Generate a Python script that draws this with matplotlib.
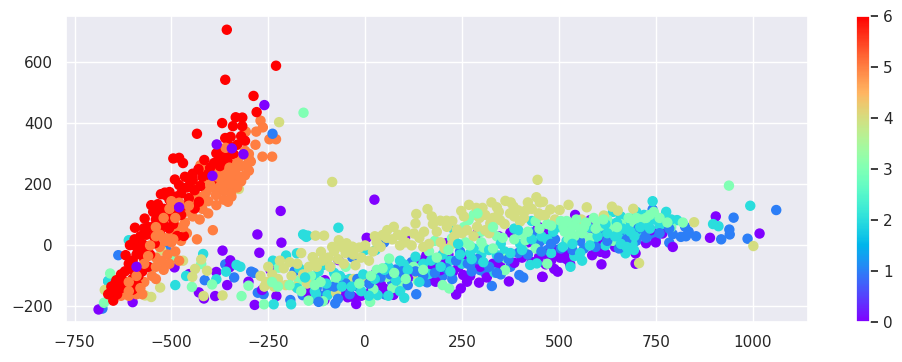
"""PCA style scatter of seven classes with a rainbow colorbar."""

import matplotlib.pyplot as plt
import numpy as np
import seaborn as sns

purple = [
    (-688, -210), (-600, -186), (-492, -72), (-454, -94), (-368, -17), (-348, -49), (-350, -72),
    (-384, -87), (-356, -130), (-429, -154), (-416, -174), (-387, -166), (-278, 36), (-218, 113),
    (-216, 9), (-273, -24), (-244, -81), (-285, -195), (-301, -119), (-229, -166), (-266, -146),
    (-152, -152), (24, 150), (4, 25), (103, 25), (209, 7), (375, 42), (447, 61), (158, -32),
    (-69, -48), (-104, -114), (-147, -152), (-105, -179), (-54, -155), (-23, -192), (-33, -168),
    (27, -92), (73, -162), (49, -141), (109, -108), (182, -119), (194, -81), (227, -86), (241, -70),
    (253, -97), (271, -100), (263, -119), (294, -122), (314, -105), (247, -141), (235, -161),
    (348, -64), (371, -118), (385, -57), (449, -37), (457, -103), (466, -62), (430, -54), (297, -70),
    (-45, -170), (-10, -165), (-65, -160), (15, -150), (40, -125), (95, -130), (120, -100),
    (170, -75), (145, -50), (200, -50), (175, -100), (215, -30), (255, -45), (330, -60), (405, -40),
    (458, -103), (488, -77), (497, -86), (529, -61), (514, -26), (490, -15), (503, -40), (542, 100),
    (586, -32), (620, -26), (607, -21), (616, 12), (581, 83), (610, -62), (698, -60), (698, -26),
    (725, 7), (737, 50), (750, 10), (767, 39), (794, -5), (890, 25), (905, 95), (1018, 39),
    (480, -50), (470, -30), (520, -45), (600, 5), (630, 30), (645, -5), (690, 65), (560, 45),
    (470, 50), (345, 30), (420, 10), (290, 40),
]
blue = [
    (-637, -32), (-586, -132), (-414, -114), (-361, -62), (-338, -105), (-294, -86), (-287, -90),
    (-277, -155), (-262, -160), (-678, -207), (-182, -84), (-193, -179), (-161, -163), (-513, -10),
    (-663, -117), (-125, -140), (-110, -165), (-140, -175), (49, 10), (-33, -39), (79, -79),
    (177, -64), (327, -133), (408, -105), (398, -97), (297, -81), (132, -160), (160, -121),
    (52, -161), (-77, -190), (-97, -141), (70, -121), (434, 43), (451, 12), (285, -60), (350, -95),
    (310, -90), (200, -100), (90, -100), (30, -130), (-20, -135), (-60, -110), (120, -55),
    (245, -20), (375, -70), (445, 0), (470, -15), (490, 20), (510, -40), (555, 15), (610, 40),
    (625, 50), (640, 5), (690, 20), (700, 15), (710, 35), (720, 50), (745, 39), (750, 17),
    (742, 118), (785, 9), (794, 37), (815, 28), (826, 61), (828, 30), (835, 45), (854, 30),
    (919, 20), (941, 36), (940, 52), (951, 91), (987, 22), (1061, 116), (530, 10), (585, 30),
    (670, 45), (680, 5), (770, 60),
]
cyan = [
    (-490, -130), (-556, -72), (-418, -28), (-462, -100), (-384, -111), (-359, -86), (-332, -64),
    (-322, -70), (-238, -50), (-204, -33), (-176, -26), (-160, 36), (-152, 28), (-236, -193),
    (-191, -193), (-610, 17), (-663, -117), (-69, 58), (-157, 34), (-148, 32), (0, -15), (27, -15),
    (-108, -64), (-97, -163), (101, -172), (130, -37), (164, -94), (100, -62), (32, -163),
    (-127, -160), (334, -89), (340, -32), (271, -26), (220, -50), (426, -64), (443, -59),
    (-130, -110), (-80, -90), (-40, -110), (-10, -150), (60, -70), (90, -50), (150, -60),
    (200, -30), (250, -60), (300, -30), (360, -20), (400, 5), (470, 20), (500, 60), (480, -25),
    (520, 15), (540, -35), (560, -50), (530, -70), (575, 60), (600, 55), (620, 95), (640, 110),
    (660, 95), (665, -10), (672, -26), (680, 30), (694, -15), (690, 60), (700, 45), (660, 20),
    (690, 5), (670, 60), (700, 110), (715, 75), (730, 70), (742, 145), (745, 85), (777, 110),
    (760, 65), (805, 83), (898, 70), (912, 63), (994, 130), (590, 20), (620, 0), (650, 40),
    (640, 70), (675, 80), (720, 100), (385, 55), (430, 80), (230, 50), (-120, -85), (-170, -75),
]
mint = [
    (-495, -42), (-423, -61), (-447, -136), (-395, -128), (-319, -166), (-301, -132), (-261, -193),
    (-674, -188), (-658, -92), (-646, -155), (-223, -73), (-171, -116), (13, -185), (280, 100),
    (267, 83), (259, 10), (306, -7), (364, -43), (414, 17), (408, -15), (200, -130), (217, -141),
    (136, -116), (96, -136), (21, -143), (62, -43), (56, -103), (-81, -125), (-146, -181),
    (-109, -183), (224, 23), (361, -81), (-159, 435), (939, 196), (-140, -100), (-90, -70),
    (-50, -70), (30, -80), (70, -140), (125, -70), (165, -20), (300, 45), (340, 30), (400, 40),
    (440, 80), (470, 70), (512, 60), (520, 80), (530, 50), (540, 30), (550, 70), (560, 40),
    (525, 20), (565, 60), (580, 25), (600, 75), (625, 85), (640, 60), (660, 70), (725, 90),
    (735, 100), (695, 75), (712, 85), (790, 60), (820, 75), (640, 15), (610, 65), (590, 90),
    (470, -60), (440, -10), (255, 60), (180, 15),
]
khaki = [
    (-470, -50), (-423, -46), (-439, -77), (-408, -83), (-446, -103), (-529, -138), (-568, -164),
    (-552, -169), (-368, -164), (-417, -166), (-579, 1), (-526, -15), (-672, -146), (-326, 185),
    (-222, 404), (-270, -100), (-255, -120), (-240, -95), (-225, -110), (-210, -75), (-205, -130),
    (-190, -100), (-175, -60), (-160, -95), (-150, -125), (-250, -70), (-235, -135), (-195, -55),
    (-220, -50), (-260, -135), (-180, -135), (-145, -70), (-135, -39), (-130, -60), (-85, 208),
    (445, 215), (442, 158), (132, 103), (161, 119), (172, 95), (194, 81), (210, 81), (248, 113),
    (268, 133), (287, 123), (303, 123), (326, 141), (362, 146), (376, 141), (383, 127), (374, 105),
    (420, 141), (451, 141), (448, 105), (400, 78), (348, 83), (323, 72), (289, 61), (263, 50),
    (237, 52), (211, 61), (130, 72), (126, 39), (152, 45), (74, 61), (57, 50), (45, 34), (-80, -19),
    (-68, 17), (-48, 7), (-128, 32), (-106, 32), (-114, -21), (-165, -25), (-135, -39), (-15, -7),
    (-33, -4), (0, 0), (20, -20), (40, -5), (70, 20), (90, 0), (105, 10), (120, 0), (150, -5),
    (165, 5), (195, 10), (205, -10), (-95, -40), (-70, -45), (-50, -25), (-30, -30), (-10, -40),
    (10, -50), (-90, -70), (-55, -60), (-25, -65), (-60, -5), (-125, -70), (25, 30), (-30, -110),
    (5, -105), (-75, -155), (135, -95), (230, 30), (250, 40), (280, 30), (310, 50), (330, 90),
    (345, 110), (360, 70), (385, 95), (410, 90), (430, 120), (465, 100), (320, 40), (295, 90),
    (525, 133), (572, 125), (637, 127), (652, 114), (692, 120), (558, 85), (616, 98), (502, 116),
    (478, 118), (459, 143), (490, 85), (456, 99), (849, 76), (1002, -2), (707, -58), (225, 5),
    (185, 45), (105, 45), (85, 35), (-110, -50), (-85, -5), (-45, -15), (30, 10), (55, 25), (95, 30),
    (140, 25), (175, 70), (225, 80), (255, 95), (310, 100), (340, 125), (395, 115), (415, 115),
]
blue_mid = [
    (-80, -135), (-50, -125), (-20, -110), (10, -125), (40, -105), (65, -95), (95, -85), (130, -85),
    (150, -100), (180, -90), (210, -75), (235, -50), (265, -60), (290, -45), (320, -70), (345, -40),
    (370, -45), (395, -25), (420, -30), (455, -20), (480, 5), (505, -10), (535, -15), (565, -10),
    (595, -5), (625, 15), (655, -10), (675, 20), (705, 55), (725, 25), (760, 40), (785, 55),
    (-40, -160), (-120, -185), (-70, -175), (110, -130), (225, -110), (275, -85), (340, -90),
]
cyan_mid = [
    (-130, -150), (-100, -125), (-65, -100), (-35, -135), (-5, -95), (25, -110), (50, -80), (80, -115),
    (110, -80), (140, -120), (170, -50), (195, -70), (220, -85), (245, -30), (275, -45), (305, -55),
    (320, -15), (350, 5), (375, -25), (405, -15), (430, 20), (455, 30), (485, 45), (510, -5), (535, 5),
    (555, -25), (580, 0), (600, 30), (625, 40), (645, 30), (660, 5), (665, 55), (685, 45), (695, 30),
    (675, -5), (650, 75), (710, 60), (735, 55), (770, 80), (790, 85), (-155, -105), (-175, -140),
    (-60, -135), (10, -165), (60, -165), (90, -150), (240, 5), (280, -10), (395, 50), (620, 70),
]
mint_mid = [
    (-115, -120), (-75, -105), (-15, -125), (15, -100), (45, -75), (75, -90), (105, -110), (150, -80),
    (185, -40), (215, -15), (270, 0), (300, 10), (330, -10), (355, 25), (385, 20), (420, 45), (450, 55),
    (480, 65), (505, 80), (515, 45), (535, 65), (545, 85), (555, 55), (570, 75), (595, 55), (615, 85),
    (650, 60), (680, 90), (700, 90), (745, 110), (760, 90), (780, 75), (-130, -130), (-165, -150),
    (290, 105), (-195, -130), (-225, -135), (-240, -120), (330, 60),
]
orange = [
    (-270, 409), (-264, 387), (-281, 373), (-308, 373), (-247, 348), (-230, 348), (-283, 330),
    (-265, 291), (-240, 291), (-425, 263), (-434, 20), (-393, 50), (-427, 85), (-405, 105),
    (-354, 143), (-384, 132), (-346, 170), (-320, 210), (-300, 245), (-295, 275), (-330, 190),
    (-345, 225), (-365, 180), (-385, 165), (-405, 145), (-420, 120), (-445, 95), (-465, 75),
    (-485, 60), (-500, 40), (-520, 25), (-530, -5), (-510, -30), (-480, -50), (-505, -60),
    (-520, -80), (-540, -40), (-550, -100), (-570, -120), (-590, -160), (-610, -165), (-630, -165),
    (-575, -160), (-540, -110), (-320, 260), (-340, 260), (-360, 230), (-310, 230), (-375, 215),
    (-350, 200), (-335, 245), (-395, 190), (-410, 175), (-365, 255), (-325, 290), (-350, 285),
    (-300, 300), (-500, 10), (-465, 110), (-440, 135), (-420, 160), (-395, 220), (-415, 210),
    (-375, 240), (-355, 205), (-340, 200), (-325, 225), (-305, 265), (-380, 195), (-440, 170),
    (-450, 150), (-470, 130), (-430, 195), (-410, 240), (-385, 250), (-345, 160), (-365, 150),
    (-445, 120), (-425, 140), (-460, 40), (-475, 15), (-490, -20), (-525, -50),
]
red = [
    (-357, 707), (-230, 589), (-361, 543), (-288, 490), (-280, 437), (-334, 420), (-317, 419),
    (-369, 401), (-341, 391), (-317, 391), (-434, 366), (-361, 352), (-347, 356), (-320, 358),
    (-310, 343), (-384, 302), (-370, 315), (-350, 325), (-330, 330), (-355, 300), (-340, 300),
    (-375, 285), (-390, 270), (-400, 255), (-375, 260), (-355, 275), (-480, 287), (-495, 285),
    (-470, 270), (-405, 235), (-420, 225), (-395, 215), (-505, 175), (-515, 165), (-527, 168),
    (-517, 173), (-487, 160), (-491, 216), (-480, 198), (-451, 209), (-440, 181), (-429, 143),
    (-440, 121), (-468, 31), (-485, 31), (-506, 56), (-563, -12), (-543, 7), (-607, 1), (-618, -32),
    (-586, -81), (-642, -114), (-663, -160), (-650, -181), (-612, -141), (-637, -136), (-594, 58),
    (-571, 56), (-569, 88), (-547, 110), (-552, 132), (-460, 190), (-470, 130), (-455, 155),
    (-500, 130), (-530, 110), (-510, 95), (-490, 115), (-475, 100), (-560, 60), (-540, 85),
    (-520, 70), (-580, 30), (-565, 35), (-550, 60), (-590, -5), (-575, -15), (-555, -30),
    (-600, -50), (-610, -60), (-590, -30), (-570, -45), (-620, -85), (-600, -80), (-585, -100),
    (-575, -85), (-630, -140), (-645, -125), (-625, -115), (-615, -135), (-600, -145), (-590, -125),
    (-655, -135), (-640, -160), (-655, -150), (-560, -70), (-600, -110), (-630, -95), (-430, 250),
    (-415, 280), (-445, 235), (-465, 225), (-475, 170), (-445, 215), (-425, 195), (-535, 135),
    (-505, 150), (-520, 120), (-495, 70), (-545, 30), (-530, 45), (-575, 5), (-595, 20),
]
orange_top = [
    (-590, -100), (-560, -35), (-530, 35), (-540, 30), (-555, 0), (-520, 90), (-490, 90), (-470, 60),
    (-505, 120), (-455, 130), (-500, 145), (-610, -120), (-580, -140), (-610, -150), (-570, -60),
    (-360, 320), (-310, 310), (-330, 270), (-300, 285), (-345, 245), (-400, 200), (-380, 225),
    (-370, 195), (-350, 255), (-480, 140), (-540, 60), (-515, 15), (-495, 20), (-540, -70),
]
purple_top = [(-260, 460), (-383, 331), (-314, 299), (-344, 318), (-394, 228), (-480, 125), (-590, -70)]
blue_top = [(-239, 366)]

xticks = [-750, -500, -250, 0, 250, 500, 750, 1000]
yticks = [-200, 0, 200, 400, 600]
cbar_ticks = [0, 1, 2, 3, 4, 5, 6]

groups = [
    (blue, 1), (purple, 0), (cyan, 2), (mint, 3), (khaki, 4), (blue_mid, 1), (cyan_mid, 2), (mint_mid, 3),
    (orange, 5), (red, 6), (orange_top, 5), (purple_top, 0), (blue_top, 1),
]
xy = np.array([p for pts, _ in groups for p in pts], dtype=float)
labels = np.array([lab for pts, lab in groups for _ in pts])

sns.set_theme()
fig = plt.figure(figsize=(9.03, 3.62), dpi=100)
ax = fig.add_axes([66 / 903, 1 - 322 / 362, 742 / 903, 306 / 362])
sc = ax.scatter(xy[:, 0], xy[:, 1], c=labels, cmap="rainbow", s=42, vmin=0, vmax=6)
ax.set_xlim(-772, 1143)
ax.set_ylim(-251, 752)
ax.set_xticks(xticks)
ax.set_yticks(yticks)

cax = fig.add_axes([856 / 903, 1 - 322 / 362, 14 / 903, 306 / 362])
colorbar = fig.colorbar(sc, cax=cax)
colorbar.set_ticks(cbar_ticks)
cax.tick_params(length=6, width=1.25, color="#262626", right=True)
cax.grid(False)

fig.savefig("out.png", dpi=100)
plt.close(fig)
